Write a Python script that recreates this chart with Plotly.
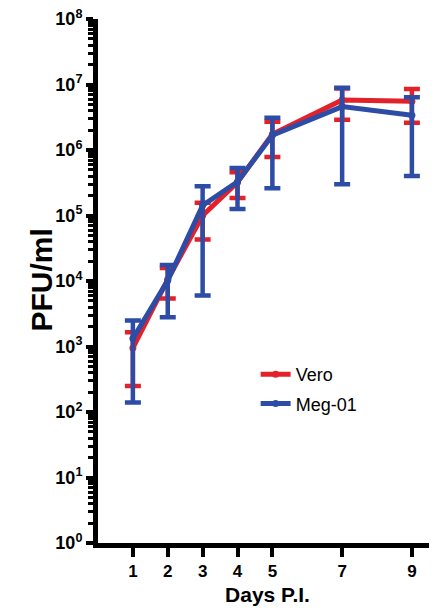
import plotly.graph_objects as go

days = [1, 2, 3, 4, 5, 7, 9]
vero_mean = [950, 10600, 100000, 322000, 1740000, 5800000, 5550000]
vero_sd = [700, 5200, 57000, 137000, 960000, 2900000, 2950000]
meg_mean = [1320, 10150, 143000, 328000, 1680000, 4600000, 3400000]
meg_sd = [1180, 7350, 137000, 202000, 1420000, 4300000, 3000000]

xticks = [1, 2, 3, 4, 5, 7, 9]
ytick_vals = [10 ** i for i in range(9)]
ytick_text = ["10<sup>%d</sup>" % i for i in range(9)]

RED = "#E3212B"
BLUE = "#2D4CA6"
FONT = "Liberation Sans, Arial, sans-serif"

fig = go.Figure()
fig.add_trace(go.Scatter(
    x=days, y=vero_mean, name="Vero", mode="lines+markers", legendgroup="vero",
    line=dict(color=RED, width=5), marker=dict(color=RED, size=7),
    error_y=dict(type="data", array=vero_sd, visible=True, color=RED, thickness=4.5, width=8),
))
fig.add_trace(go.Scatter(
    x=days, y=meg_mean, name="Meg-01", mode="lines+markers", legendgroup="meg",
    line=dict(color=BLUE, width=5), marker=dict(color=BLUE, size=7),
    error_y=dict(type="data", array=meg_sd, visible=True, color=BLUE, thickness=4.5, width=8),
))

# page body has an 8px margin: figure is 429x600 so that the page is filled
fig.update_layout(
    width=429, height=600,
    margin=dict(l=90, r=0, t=11, b=65),
    paper_bgcolor="white", plot_bgcolor="white",
    font=dict(family=FONT, color="black"),
    showlegend=True,
    legend=dict(x=0.465, y=0.357, xanchor="left", yanchor="top",
                font=dict(size=18, family=FONT), bgcolor="rgba(0,0,0,0)",
                tracegroupgap=3),
    xaxis=dict(
        range=[0, 9.72], tickvals=xticks, ticktext=[str(t) for t in xticks],
        showline=True, linecolor="black", linewidth=5, showgrid=False, zeroline=False,
        ticks="outside", ticklen=9, tickwidth=4, tickcolor="black", automargin=False,
        tickfont=dict(size=17, family=FONT, weight="bold"),
        title=dict(text="<b>Days P.I.</b>", font=dict(size=21, family=FONT), standoff=8),
    ),
    yaxis=dict(
        type="log", range=[0, 8], tickvals=ytick_vals, ticktext=ytick_text,
        showline=True, linecolor="black", linewidth=5, showgrid=False, zeroline=False,
        ticks="outside", ticklen=7, tickwidth=4, tickcolor="black", automargin=False,
        ticklabeloverflow="allow",
        tickfont=dict(size=18, family=FONT, weight="bold"),
        minor=dict(ticks="outside", ticklen=5, tickwidth=3, tickcolor="black", dtick="D1", showgrid=False),
    ),
    annotations=[dict(
        text="<b>PFU/ml</b>", x=-0.168, xref="paper", y=0.501, yref="paper",
        xanchor="center", yanchor="middle", textangle=-90, showarrow=False,
        font=dict(size=30, family=FONT, color="black"),
    )],
)

fig.write_html("out.html")
